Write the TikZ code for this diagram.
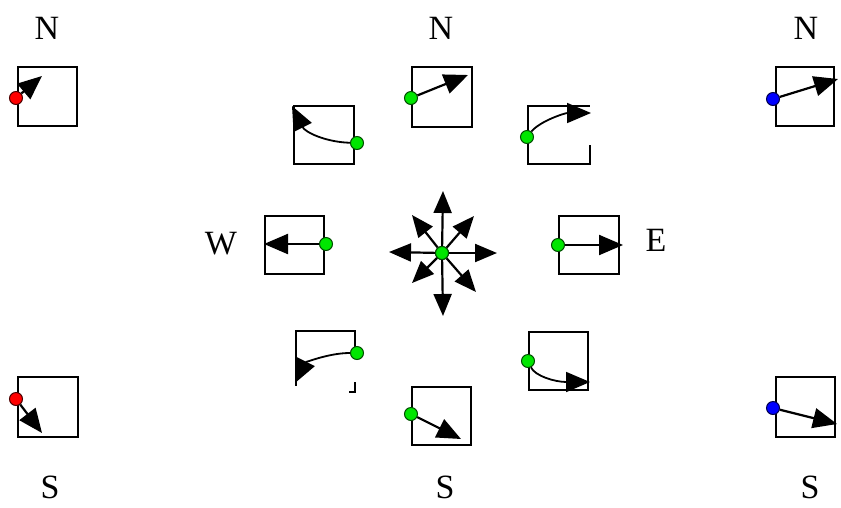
\documentclass[tikz,border=0pt]{standalone}
\usepackage{fontspec}
\setmainfont{Liberation Serif}
\usetikzlibrary{arrows.meta}
\begin{document}
\begin{tikzpicture}[x=1pt,y=-1pt,
  box/.style={line width=2pt,line cap=rect},
  arr/.style={line width=2.2pt,-{Triangle[length=24pt,width=20pt]}},
  carr/.style={line width=1.8pt,-{Triangle[length=24pt,width=20pt]}},
  sarr/.style={line width=2.2pt,-{Triangle[length=22pt,width=18pt]}},
  pin/.style={circle,line width=1pt,minimum size=13pt,inner sep=0pt},
  pg/.style={pin,draw=black!70!green,fill={rgb,255:red,0;green,230;blue,0}},
  pr/.style={pin,draw=black!70!red,fill={rgb,255:red,255;green,0;blue,0}},
  pb/.style={pin,draw=black!70!blue,fill={rgb,255:red,0;green,0;blue,255}},
  lab/.style={font=\fontsize{34}{34}\selectfont,inner sep=0pt}]
\useasboundingbox (0,0) rectangle (841,507);
% labels
\node[lab] (n1) at (47,28) {N};
\node[lab] (n2) at (441,28) {N};
\node[lab] (n3) at (806,28) {N};
\node[lab] (s1) at (50,487) {S};
\node[lab] (s2) at (445,487) {S};
\node[lab] (s3) at (810,487) {S};
\node[lab] (w) at (221,244) {W};
\node[lab] (e) at (656,240) {E};
% boxes
\draw[box] (18,67) rectangle (77,126);
\draw[box] (412,67) rectangle (472,127);
\draw[box] (776,67) rectangle (834,126);
\draw[box] (294,106) rectangle (354,164);
\draw[box] (590,146) -- (590,164) -- (528,164) -- (528,106) -- (589,106);
\draw[box] (265,216) rectangle (324,274);
\draw[box] (559,216) rectangle (619,274);
\draw[box] (296,385) -- (296,331) -- (355,331) -- (355,353);
\draw[box] (355,383) -- (355,392) -- (350,392);
\draw[box] (529,332) rectangle (588,390);
\draw[box] (412,387) rectangle (471,445);
\draw[box] (18,377) rectangle (78,437);
\draw[box] (776,377) rectangle (835,437);
% pins
\node[pr] (p1) at (16,98) {};
\node[pg] (p2) at (411,98) {};
\node[pb] (p3) at (773,99) {};
\node[pg] (p4) at (357,143) {};
\node[pg] (p5) at (527,137) {};
\node[pg] (p6) at (326,244) {};
\node[pg] (p7) at (558,245) {};
\node[pg] (p8) at (357,353) {};
\node[pg] (p9) at (528,361) {};
\node[pg] (p10) at (411,414) {};
\node[pr] (p11) at (16,399) {};
\node[pb] (p12) at (773,408) {};
\node[pg] (c) at (442,253) {};
% tips
\coordinate (t1) at (42,76);
\coordinate (t2) at (468,75);
\coordinate (t3) at (838,79);
\coordinate (t4) at (292,106);
\coordinate (t5) at (591,113);
\coordinate (t6) at (264,244);
\coordinate (t7) at (623,245);
\coordinate (t8) at (295,383);
\coordinate (t9) at (590,382);
\coordinate (t10) at (461,439);
\coordinate (t11) at (42,433);
\coordinate (t12) at (837,424);
\coordinate (cn) at (443,191);
\coordinate (cs) at (443,316);
\coordinate (cw) at (389,252);
\coordinate (ce) at (497,253);
\coordinate (cne) at (474,216);
\coordinate (cnw) at (412,215);
\coordinate (csw) at (412,283);
\coordinate (cse) at (476,292);
% arrows
\draw[arr] (p1) -- (t1);
\draw[arr] (p2) -- (t2);
\draw[arr] (p3) -- (t3);
\draw[carr] (p4) .. controls (325,142) and (305,132) .. (t4);
\draw[carr] (p5) .. controls (540,121) and (565,113) .. (t5);
\draw[arr] (p6) -- (t6);
\draw[arr] (p7) -- (t7);
\draw[carr] (p8) .. controls (328,353) and (305,363) .. (t8);
\draw[carr] (p9) .. controls (535,376) and (555,382) .. (t9);
\draw[arr] (p10) -- (t10);
\draw[arr] (p11) -- (t11);
\draw[arr] (p12) -- (t12);
\foreach \t in {cn,cs,cw,ce,cne,cnw,csw,cse} \draw[sarr] (c) -- (\t);
\node[pg] at (c) {};
\end{tikzpicture}
\end{document}
